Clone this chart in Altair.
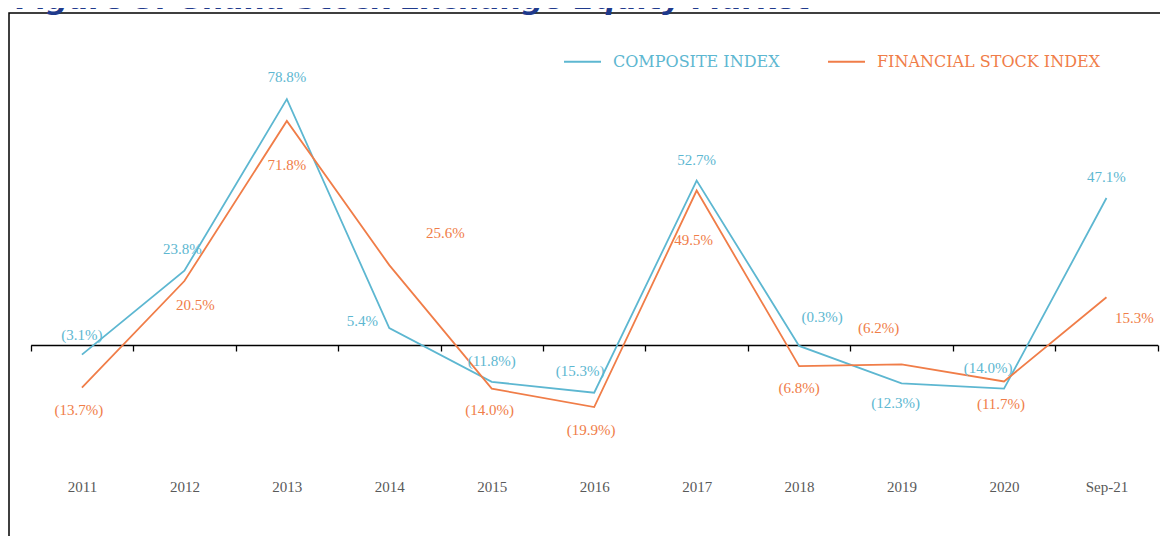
import altair as alt
import pandas as pd

# ---------------- data ----------------
categories = ["2011", "2012", "2013", "2014", "2015", "2016", "2017", "2018", "2019", "2020", "Sep-21"]
composite = [-3.1, 23.8, 78.8, 5.4, -11.8, -15.3, 52.7, -0.3, -12.3, -14.0, 47.1]
financial = [-13.7, 20.5, 71.8, 25.6, -14.0, -19.9, 49.5, -6.8, -6.2, -11.7, 15.3]
series_names = ["COMPOSITE INDEX", "FINANCIAL STOCK INDEX"]
title_text = "Figure 5: Ghana Stock Exchange Equity Market"

# ---------------- styles ----------------
series_colors = ["#5DB7D1", "#F07D48"]
# label placement (dx, dy in px) relative to each point
comp_offsets = [(0, -20), (-2, -22), (0, -22), (-27, -7), (0, -21), (-14, -22),
                (0, -21), (23, -29), (-6, 20), (-16, -21), (0, -21)]
fin_offsets = [(-3, 22), (11, 24), (0, 44), (56, -32), (-2, 21), (-3, 23),
               (-3, 49), (0, 22), (-23, -36), (-3, 23), (28, 21)]

W, H = 1150, 528
SERIF = "Liberation Serif"


def fmt(v):
    return f"({abs(v):.1f}%)" if v < 0 else f"{v:.1f}%"


rows = []
for s, vals in zip(series_names, [composite, financial]):
    for c, v in zip(categories, vals):
        rows.append({"category": c, "series": s, "value": v, "label": fmt(v)})
df = pd.DataFrame(rows)
one = pd.DataFrame({"k": [0]})

x_scale = alt.Scale(type="band", domain=categories, range=[20.7, 1147.7],
                    paddingInner=0, paddingOuter=0)
y_scale = alt.Scale(domain=[-61.22, 108.01], nice=False, zero=False)

x_enc = alt.X(
    "category:N", sort=categories, scale=x_scale,
    axis=alt.Axis(orient="bottom", offset=-191, title=None, grid=False,
                  domainColor="#000000", domainWidth=1.3,
                  tickColor="#000000", tickWidth=1.3, tickSize=6, tickBand="extent",
                  labelPadding=128, labelFont=SERIF, labelFontSize=15,
                  labelColor="#595959", labelAngle=0),
)
y_enc = alt.Y("value:Q", scale=y_scale, axis=None)

lines = alt.Chart(df).mark_line(strokeWidth=1.8).encode(
    x=x_enc,
    y=y_enc,
    color=alt.Color(
        "series:N",
        scale=alt.Scale(domain=series_names, range=series_colors),
        legend=alt.Legend(
            orient="none", legendX=553, legendY=34, direction="horizontal",
            title=None, symbolType="stroke", symbolSize=1369, symbolStrokeWidth=1.8,
            labelFont="DejaVu Serif", labelFontSize=16, labelOffset=11,
            columnPadding=44, labelLimit=400, padding=0,
            labelColor=alt.ExprRef(
                f"datum.value == '{series_names[0]}' ? '{series_colors[0]}' : '{series_colors[1]}'"
            ),
        ),
    ),
)

label_layers = []
for s, col, offs in zip(series_names, series_colors, [comp_offsets, fin_offsets]):
    for c, (dx, dy) in zip(categories, offs):
        label_layers.append(
            alt.Chart(df)
            .transform_filter((alt.datum.series == s) & (alt.datum.category == c))
            .mark_text(dx=dx, dy=dy, font=SERIF, fontSize=15, color=col)
            .encode(x=alt.X("category:N", sort=categories, scale=x_scale),
                    y=alt.Y("value:Q", scale=y_scale), text="label:N")
        )

border = alt.Chart(one).mark_rect(fillOpacity=0, stroke="#000000", strokeWidth=1.5).encode(
    x=alt.value(-1), x2=alt.value(1300), y=alt.value(5), y2=alt.value(800)
)

title = alt.Chart(one).mark_text(
    align="left", baseline="alphabetic", font="DejaVu Sans", fontSize=30,
    fontStyle="italic", fontWeight="bold", color="#1F3A8C"
).encode(x=alt.value(6), y=alt.value(1), text=alt.value(title_text))

chart = alt.layer(border, title, lines, *label_layers).properties(
    width=W, height=H,
    autosize=alt.AutoSizeParams(type="none"),
    padding={"left": 2, "top": 0, "right": 0, "bottom": 0},
).configure_view(stroke=None)

chart.save("out.html", embed_options={"renderer": "svg", "actions": False})
